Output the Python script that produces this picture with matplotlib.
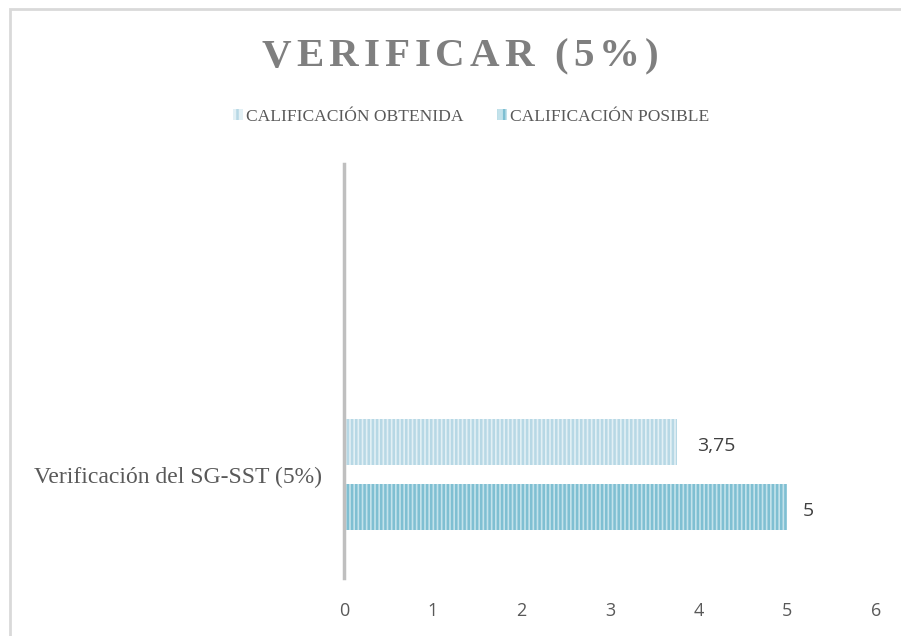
import matplotlib
matplotlib.use("Agg")
import matplotlib.pyplot as plt
from matplotlib.patches import Patch, Rectangle

categories = ["Verificación del SG-SST (5%)", ""]
series_names = ["CALIFICACIÓN OBTENIDA", "CALIFICACIÓN POSIBLE"]
obtenida = [3.75, None]
posible = [5, None]
value_labels_obtenida = ["3,75", ""]
value_labels_posible = ["5", ""]
xticks = [0, 1, 2, 3, 4, 5, 6]
title = "VERIFICAR (5%)"

plt.rcParams['hatch.linewidth'] = 1.8

W, H = 901, 636
fig = plt.figure(figsize=(W / 100, H / 100), dpi=100)
fig.patch.set_facecolor("white")

# outer chart border (partially cropped in the reference)
fig.add_artist(Rectangle((10 / W, -0.05), 1.2, 1 - 9 / H + 0.05, transform=fig.transFigure,
                         fill=False, edgecolor="#d9d9d9", linewidth=2))

ax = fig.add_axes([344 / W, 1 - 578 / H, (876 - 344) / W, (578 - 164) / H])
ax.set_xlim(0, 6)
ax.set_ylim(0, 2)

cat_pos = [0.5, 1.5]
off = 0.157
h = 0.218
light_face, light_hatch = "#e2f0f5", "#b7d8e5"
dark_face, dark_hatch = "#c3e2eb", "#7fbfd2"

for i, c in enumerate(cat_pos):
    if obtenida[i] is not None:
        ax.barh(c + off, obtenida[i], height=h, color=light_face, edgecolor=light_hatch,
                hatch="||||", linewidth=0)
        ax.text(obtenida[i] + 0.23, c + off - 0.02, value_labels_obtenida[i], va="center", ha="left",
                fontsize=14, color="#404040", family="Open Sans")
    if posible[i] is not None:
        ax.barh(c - off, posible[i], height=h, color=dark_face, edgecolor=dark_hatch,
                hatch="||||", linewidth=0)
        ax.text(posible[i] + 0.17, c - off - 0.02, value_labels_posible[i], va="center", ha="left",
                fontsize=14, color="#404040", family="Open Sans")

for s in ["top", "right", "bottom"]:
    ax.spines[s].set_visible(False)
ax.spines["left"].set_color("#bfbfbf")
ax.spines["left"].set_linewidth(2.5)

ax.set_xticks(xticks)
ax.set_xticklabels([str(t) for t in xticks], family="Open Sans", fontsize=13, color="#595959")
ax.tick_params(axis="x", length=0, pad=17)
ax.set_yticks(cat_pos)
ax.set_yticklabels(categories, family="Liberation Serif", fontsize=17, color="#595959")
ax.tick_params(axis="y", length=0, pad=16)

# legend
handles = [Patch(facecolor=light_face, edgecolor=light_hatch, hatch="||", linewidth=0),
           Patch(facecolor=dark_face, edgecolor=dark_hatch, hatch="||", linewidth=0)]
leg = fig.legend(handles, series_names, loc="center", bbox_to_anchor=(471 / W, 1 - 117 / H),
                 ncol=2, frameon=False, prop={"family": "Liberation Serif", "size": 12.6},
                 handlelength=0.6, handleheight=0.6, handletextpad=0.15, columnspacing=1.9)
for t in leg.get_texts():
    t.set_color("#595959")

# title with letter spacing
fig.canvas.draw()
renderer = fig.canvas.get_renderer()
tprops = dict(family="Liberation Serif", fontsize=29.5, fontweight="bold", color="#7f7f7f")
spacing = 5  # px
widths = []
for ch in title:
    t = fig.text(0, 0, ch, **tprops)
    widths.append(t.get_window_extent(renderer).width)
    t.remove()
total = sum(widths) + spacing * (len(title) - 1)
x = 460 - total / 2
for ch, w in zip(title, widths):
    fig.text(x / W, 1 - 57 / H, ch, va="center", ha="left", **tprops)
    x += w + spacing

fig.savefig("out.png", dpi=100)
